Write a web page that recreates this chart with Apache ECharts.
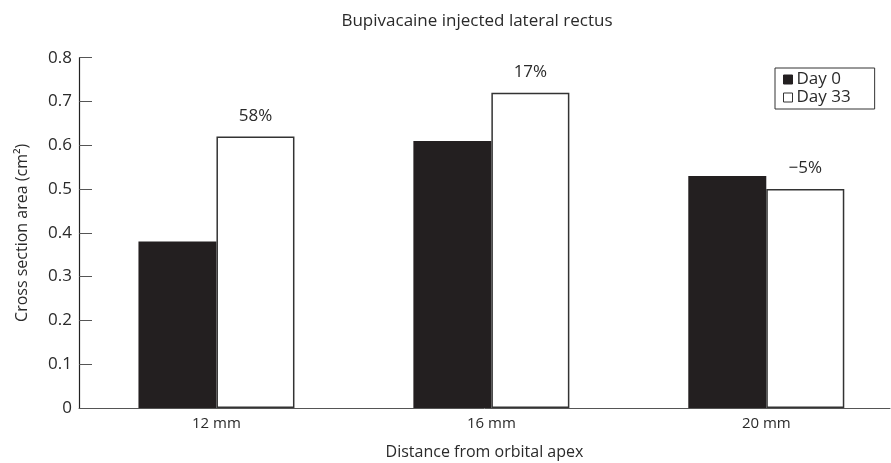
<!DOCTYPE html>
<html>
<head>
<meta charset="utf-8">
<script src="https://cdn.jsdelivr.net/npm/echarts@6/dist/echarts.min.js"></script>
<style>
html,body{margin:0;padding:0;background:#fff;}
#chart{width:891px;height:463px;}
</style>
</head>
<body>
<div id="chart"></div>
<script>
// Data
const distances = [12, 16, 20];
const tickLabels = ['12 mm', '16 mm', '20 mm'];
const day0 = [0.38, 0.61, 0.53];
const day33 = [0.62, 0.72, 0.50];
const changeLabels = ['58%', '17%', '\u22125%'];

const FONT = 'Open Sans';
const TXT = '#2a2a2a';

const chart = echarts.init(document.getElementById('chart'), null, {renderer: 'canvas'});
chart.setOption({
  animation: false,
  backgroundColor: '#fff',
  textStyle: {fontFamily: FONT},
  title: {
    text: 'Bupivacaine injected lateral rectus',
    left: 472, top: 8, textAlign: 'center',
    textStyle: {fontFamily: FONT, fontSize: 17, fontWeight: 'normal', color: TXT}
  },
  legend: {
    orient: 'vertical',
    left: 775, top: 68,
    padding: [3, 24, 3, 8],
    itemGap: 1,
    itemWidth: 9, itemHeight: 9,
    icon: 'rect',
    borderColor: '#333', borderWidth: 1,
    itemStyle: {borderWidth: 1},
    textStyle: {fontFamily: FONT, fontSize: 17, color: TXT, padding: [0, 0, 0, -1]},
    data: ['Day 0', 'Day 33']
  },
  grid: {left: 79, right: 1, top: 57.7, bottom: 55, containLabel: false, outerBoundsMode: 'none'},
  xAxis: {
    type: 'value',
    min: 10, max: 21.8,
    name: 'Distance from orbital apex',
    nameLocation: 'middle', nameGap: 36,
    nameTextStyle: {fontFamily: FONT, fontSize: 16, color: TXT},
    axisLine: {show: true, lineStyle: {color: '#555', width: 1}},
    axisTick: {show: false},
    splitLine: {show: false},
    axisLabel: {
      customValues: distances,
      formatter: function (v) { const i = distances.indexOf(v); return i >= 0 ? tickLabels[i] : ''; },
      fontFamily: FONT, fontSize: 15, color: TXT, margin: 8
    }
  },
  yAxis: {
    type: 'value',
    min: 0, max: 0.8, interval: 0.1,
    name: 'Cross section area (cm\u00B2)',
    nameLocation: 'middle', nameGap: 49, nameRotate: 90,
    nameTextStyle: {fontFamily: FONT, fontSize: 16, color: TXT},
    axisLine: {show: true, lineStyle: {color: '#222', width: 1.2}},
    axisTick: {show: true, inside: true, length: 13, lineStyle: {color: '#555', width: 1}},
    splitLine: {show: false},
    axisLabel: {
      formatter: function (v) { return v === 0 ? '0' : v.toFixed(1); },
      fontFamily: FONT, fontSize: 17, color: TXT, margin: 7
    }
  },
  series: [
    {
      name: 'Day 0', type: 'bar',
      barWidth: 78, barGap: '0%',
      itemStyle: {color: '#231f20', borderColor: '#231f20', borderWidth: 0},
      data: distances.map((d, i) => [d, day0[i]])
    },
    {
      name: 'Day 33', type: 'bar',
      barWidth: 78, barGap: '0%',
      itemStyle: {color: '#ffffff', borderColor: '#333', borderWidth: 1.5},
      label: {
        show: true, position: 'top', distance: 12,
        formatter: function (p) { return changeLabels[p.dataIndex]; },
        fontFamily: FONT, fontSize: 17, color: TXT
      },
      data: distances.map((d, i) => [d, day33[i]])
    }
  ]
});
</script>
</body>
</html>
